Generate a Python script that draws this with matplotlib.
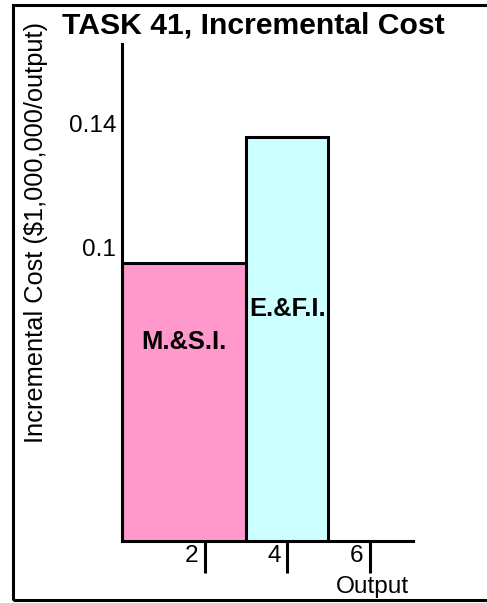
import matplotlib
matplotlib.use('Agg')
import matplotlib.pyplot as plt
from matplotlib.patches import Rectangle

plt.rcParams['font.family'] = ['Liberation Sans', 'DejaVu Sans']

# data
bar_left = [0, 3]
bar_width = [3, 2]
bar_cost = [0.0948, 0.1355]
bar_names = ['M.&S.I.', 'E.&F.I.']
bar_colors = ['#FF99CC', '#CCFFFF']
name_y = [0.0694, 0.080]
xticks = [2, 4, 6]
yticks = [0.1, 0.14]
ytick_labels = ['0.1', '0.14']

fig = plt.figure(figsize=(4.87, 6.03), dpi=100)
ax = fig.add_axes([122 / 487, 1 - 541 / 603, 291 / 487, 497 / 603])

ax.bar(bar_left, bar_cost, width=bar_width, align='edge', color=bar_colors,
       edgecolor='black', linewidth=2.2)
for x, w, y, name in zip(bar_left, bar_width, name_y, bar_names):
    ax.text(x + w / 2, y, name, ha='center', va='center', fontsize=18.4,
            fontweight='bold')

ax.set_xlim(0, 7.05)
ax.set_ylim(0.0052, 0.1655)

for s in ['top', 'right']:
    ax.spines[s].set_visible(False)
for s in ['left', 'bottom']:
    ax.spines[s].set_linewidth(2.2)

ax.set_yticks(yticks)
ax.set_yticklabels(ytick_labels, fontsize=17.6)
ax.tick_params(axis='y', length=0, pad=4)

ax.set_xticks(xticks)
ax.tick_params(axis='x', direction='out', length=23, width=2.2, labelbottom=False)
for t in xticks:
    ax.annotate(str(t), xy=(t, 0), xycoords=('data', 'axes fraction'),
                xytext=(-4.5, -10.5), textcoords='offset points',
                ha='right', va='center', fontsize=17.6)

fig.text(372 / 487, 1 - 587 / 603, 'Output', ha='center', va='center', fontsize=17.6)
fig.text(36 / 487, 1 - 232 / 603, 'Incremental Cost ($1,000,000/output)',
         rotation=90, ha='center', va='center', fontsize=18.3)
fig.text(253 / 487, 1 - 25 / 603, 'TASK 41, Incremental Cost', ha='center',
         va='center', fontsize=21.7, fontweight='bold')

# frame round the figure (right side runs off the picture)
fig.patches.append(Rectangle((13 / 487, 1 - 600 / 603), 1.0, 595 / 603,
                             transform=fig.transFigure, fill=False,
                             edgecolor='black', linewidth=2.2))

fig.savefig('out.png', dpi=100)
